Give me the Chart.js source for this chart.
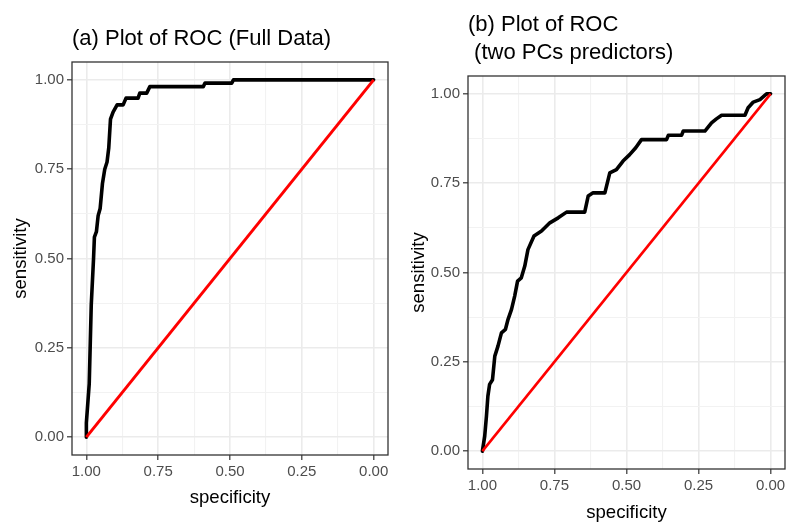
<!DOCTYPE html>
<html>
<head>
<meta charset="utf-8">
<title>ROC plots</title>
<script src="https://cdn.jsdelivr.net/npm/chart.js@4.4.0/dist/chart.umd.min.js"></script>
<style>
  html, body { margin: 0; padding: 0; background: #fff; }
  #wrap { position: relative; width: 789px; height: 527px; overflow: hidden; }
  #rocA { position: absolute; left: 0; top: 0; }
  #rocB { position: absolute; left: 400px; top: 0; }
</style>
</head>
<body>
<div id="wrap">
  <canvas id="rocA" width="400" height="527"></canvas>
  <canvas id="rocB" width="389" height="527"></canvas>
</div>
<script>
// (a) full data ROC
const specA = [1, 1, 0.99, 0.983, 0.975, 0.972, 0.965, 0.959, 0.952, 0.944, 0.936, 0.928, 0.922, 0.916, 0.907, 0.893, 0.872, 0.862, 0.82, 0.814, 0.79, 0.779, 0.593, 0.587, 0.494, 0.488, 0];
const sensA = [0, 0.04, 0.15, 0.37, 0.5, 0.56, 0.575, 0.62, 0.64, 0.71, 0.75, 0.77, 0.81, 0.89, 0.91, 0.93, 0.93, 0.949, 0.949, 0.963, 0.963, 0.981, 0.981, 0.991, 0.991, 1, 1];

// (b) two PCs predictors
const specB = [1, 0.992, 0.986, 0.981, 0.975, 0.965, 0.957, 0.946, 0.934, 0.92, 0.911, 0.899, 0.888, 0.878, 0.865, 0.853, 0.842, 0.821, 0.795, 0.766, 0.737, 0.708, 0.645, 0.633, 0.616, 0.575, 0.558, 0.535, 0.512, 0.489, 0.468, 0.448, 0.361, 0.355, 0.309, 0.303, 0.228, 0.205, 0.188, 0.17, 0.089, 0.078, 0.06, 0.037, 0.014, 0];
const sensB = [0, 0.042, 0.098, 0.154, 0.187, 0.2, 0.266, 0.294, 0.331, 0.341, 0.369, 0.397, 0.434, 0.476, 0.485, 0.518, 0.564, 0.602, 0.616, 0.639, 0.653, 0.669, 0.669, 0.714, 0.723, 0.723, 0.779, 0.788, 0.812, 0.83, 0.849, 0.872, 0.872, 0.884, 0.884, 0.896, 0.896, 0.919, 0.93, 0.94, 0.94, 0.961, 0.977, 0.984, 1, 1];

// chance line
const chanceSpec = [1, 0];
const chanceSens = [0, 1];

// major + minor grid positions (ggplot style)
const gridVals = [0, 0.125, 0.25, 0.375, 0.5, 0.625, 0.75, 0.875, 1];

const FONT = "'Liberation Sans', Arial, Helvetica, sans-serif";
const toPoints = (xs, ys) => xs.map((x, i) => ({ x, y: ys[i] }));
const isMajor = v => Math.abs(v * 4 - Math.round(v * 4)) < 1e-6;

// box around the panel, like theme_bw
const panelBorder = {
  id: 'panelBorder',
  afterDraw(chart) {
    const { ctx, chartArea: a } = chart;
    ctx.save();
    ctx.strokeStyle = '#333333';
    ctx.lineWidth = 1.3;
    ctx.strokeRect(a.left, a.top, a.right - a.left, a.bottom - a.top);
    ctx.restore();
  }
};

function scaleOpts(label, horizontal, size, titlePad) {
  return {
    type: 'linear',
    min: -0.05,
    max: 1.05,
    reverse: horizontal,
    afterBuildTicks: s => { s.ticks = gridVals.map(v => ({ value: v })); },
    afterFit: s => { if (horizontal) s.height = size; else s.width = size; },
    grid: {
      color: c => (c.tick && isMajor(c.tick.value)) ? '#EBEBEB' : '#F2F2F2',
      lineWidth: c => (c.tick && isMajor(c.tick.value)) ? 1.6 : 1.1,
      tickColor: c => (c.tick && isMajor(c.tick.value)) ? '#333333' : 'rgba(0,0,0,0)',
      tickWidth: 1.2,
      tickLength: 5,
      drawTicks: true
    },
    border: { display: false },
    ticks: {
      autoSkip: false,
      maxRotation: 0,
      padding: 3,
      color: '#4D4D4D',
      font: { family: FONT, size: 15 },
      callback: v => isMajor(v) ? Number(v).toFixed(2) : ''
    },
    title: {
      display: true,
      text: label,
      color: '#000000',
      font: { family: FONT, size: 18.6 },
      padding: titlePad
    }
  };
}

function makeRoc(id, cfg) {
  return new Chart(document.getElementById(id), {
    type: 'scatter',
    data: {
      datasets: [
        {
          label: 'chance',
          data: toPoints(chanceSpec, chanceSens),
          showLine: true,
          borderColor: '#FF0000',
          borderWidth: cfg.redWidth,
          pointRadius: 0
        },
        {
          label: 'ROC',
          data: toPoints(cfg.spec, cfg.sens),
          showLine: true,
          borderColor: '#000000',
          borderWidth: 3.6,
          borderJoinStyle: 'round',
          borderCapStyle: 'round',
          pointRadius: 0
        }
      ]
    },
    options: {
      responsive: false,
      animation: false,
      layout: { padding: cfg.padding },
      plugins: {
        legend: { display: false },
        tooltip: { enabled: false },
        title: {
          display: true,
          text: cfg.title,
          align: 'start',
          fullSize: false,
          color: '#000000',
          font: { family: FONT, size: 22, weight: 'normal', lineHeight: cfg.titleLine },
          padding: cfg.titlePad
        }
      },
      scales: {
        x: scaleOpts('specificity', true, cfg.xSize, { top: 0, bottom: cfg.xTitlePad }),
        y: scaleOpts('sensitivity', false, cfg.ySize, { top: cfg.yTitlePad, bottom: 0 })
      }
    },
    plugins: [panelBorder]
  });
}

makeRoc('rocA', {
  spec: specA, sens: sensA,
  title: '(a) Plot of ROC (Full Data)',
  titleLine: 1.2,
  titlePad: { top: 25.8, bottom: 9.8 },
  padding: { left: 0, right: 12, top: 0, bottom: 12 },
  xSize: 60, xTitlePad: 5.8,
  ySize: 72, yTitlePad: 10,
  redWidth: 3
});

makeRoc('rocB', {
  spec: specB, sens: sensB,
  title: ['(b) Plot of ROC', ' (two PCs predictors)'],
  titleLine: 28 / 22,
  titlePad: { top: 11, bottom: 9 },
  padding: { left: 0, right: 4, top: 0, bottom: 2 },
  xSize: 56, xTitlePad: 0.8,
  ySize: 68, yTitlePad: 8,
  redWidth: 2.6
});
</script>
</body>
</html>
